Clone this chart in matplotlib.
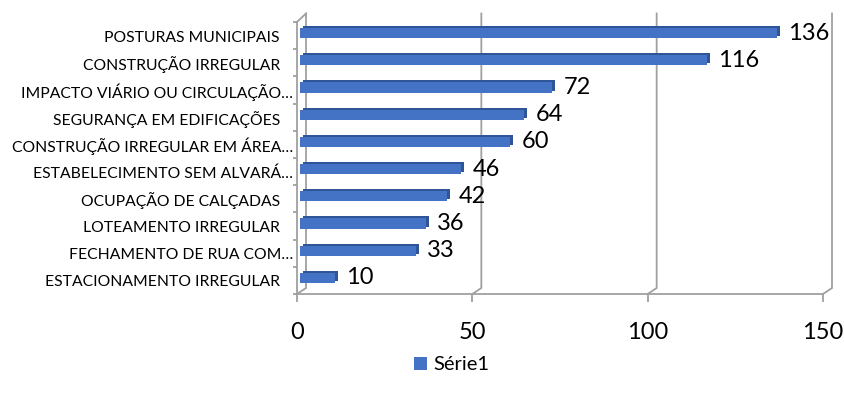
import matplotlib
matplotlib.use("Agg")
import matplotlib.pyplot as plt
import matplotlib.transforms as mtransforms
from matplotlib.patches import Patch

# Data (bottom to top)
categories = [
    "ESTACIONAMENTO IRREGULAR",
    "FECHAMENTO DE RUA COM…",
    "LOTEAMENTO IRREGULAR",
    "OCUPAÇÃO DE CALÇADAS",
    "ESTABELECIMENTO SEM ALVARÁ…",
    "CONSTRUÇÃO IRREGULAR EM ÁREA…",
    "SEGURANÇA EM EDIFICAÇÕES",
    "IMPACTO VIÁRIO OU CIRCULAÇÃO…",
    "CONSTRUÇÃO IRREGULAR",
    "POSTURAS MUNICIPAIS",
]
values = [10, 33, 36, 42, 46, 60, 64, 72, 116, 136]
x_ticks = [0, 50, 100, 150]
series_name = "Série1"

FONT = ["Lato", "DejaVu Sans"]
plt.rcParams["font.family"] = FONT

W, H, DPI = 844, 394, 100
fig = plt.figure(figsize=(W / DPI, H / DPI), dpi=DPI)

# Front plane of the 3D box, in pixels
left_px, right_px, top_px, bottom_px = 297, 823, 22, 294
ax = fig.add_axes([left_px / W, (H - bottom_px) / H,
                   (right_px - left_px) / W, (bottom_px - top_px) / H])
xmin, xmax = 0, 150
ymin, ymax = -0.5, len(categories) - 0.5
ax.set_xlim(xmin, xmax)
ax.set_ylim(ymin, ymax)

# pixel -> data unit conversion for depth offsets
ux = (xmax - xmin) / (right_px - left_px)
uy = (ymax - ymin) / (bottom_px - top_px)
depth_dx = 9 * ux          # back wall shift to the right
depth_dy_floor = 6 * uy    # back wall floor is raised
depth_dy_top = 8.5 * uy    # back wall top is raised

grid_color = "#A0A0A0"
grid_lw = 1.3

# Back-wall gridlines plus their floor slant
for v in x_ticks:
    ax.plot([v, v + depth_dx, v + depth_dx],
            [ymin, ymin + depth_dy_floor, ymax + depth_dy_top],
            color=grid_color, lw=grid_lw, clip_on=False, zorder=1,
            solid_joinstyle="miter")
# Left wall top slant
ax.plot([0, depth_dx], [ymax, ymax + depth_dy_top],
        color=grid_color, lw=grid_lw, clip_on=False, zorder=1)

# Front spines
for s in ("top", "right"):
    ax.spines[s].set_visible(False)
for s in ("left", "bottom"):
    ax.spines[s].set_color(grid_color)
    ax.spines[s].set_linewidth(grid_lw)
    ax.spines[s].set_zorder(1)
ax.patch.set_visible(False)

# Bars sit slightly behind the front plane
bar_tf = mtransforms.offset_copy(ax.transData, fig=fig, x=3, y=2.5, units="dots")
ext_tf = mtransforms.offset_copy(ax.transData, fig=fig, x=6, y=4.5, units="dots")
ypos = list(range(len(categories)))
bar_h = 0.38
ax.barh(ypos, values, height=bar_h, color="#2E5597", transform=ext_tf,
        zorder=2, clip_on=False)
ax.barh(ypos, values, height=bar_h, color="#4472C4", transform=bar_tf,
        zorder=3, clip_on=False)

# Value labels
for y, v in zip(ypos, values):
    ax.annotate(str(v), xy=(v, y), xycoords=bar_tf,
                xytext=(11, 0), textcoords="offset pixels",
                ha="left", va="center", fontsize=17, color="#000000",
                zorder=4)

# Category labels on the front plane; truncated names run closer to the axis
lab_tf = mtransforms.blended_transform_factory(ax.transAxes, ax.transData)
for y, name in zip(ypos, categories):
    gap = 4 if name.endswith("…") else 17
    ax.text(0, y, name, transform=lab_tf + mtransforms.ScaledTranslation(
                -gap / DPI, -2 / DPI, fig.dpi_scale_trans),
            ha="right", va="center", fontsize=11.3, color="#000000")

ax.set_yticks([])
ax.set_yticks([y - 0.5 for y in range(len(categories) + 1)], minor=True)
ax.tick_params(axis="y", which="minor", length=3, width=grid_lw,
               color=grid_color, direction="out")
ax.set_xticks(x_ticks)
ax.set_xticklabels([str(t) for t in x_ticks])
ax.tick_params(axis="x", which="major", length=6, width=grid_lw,
               color=grid_color, direction="out", pad=14,
               labelsize=17, labelcolor="#000000")

# Legend
handle = Patch(facecolor="#4472C4", edgecolor="none")
fig.legend([handle], [series_name], loc="center",
           bbox_to_anchor=(452 / W, (H - 365) / H), frameon=False,
           fontsize=14.5, handlelength=0.62, handleheight=0.62,
           handletextpad=0.35, borderpad=0)

fig.savefig("out.png", dpi=DPI)
